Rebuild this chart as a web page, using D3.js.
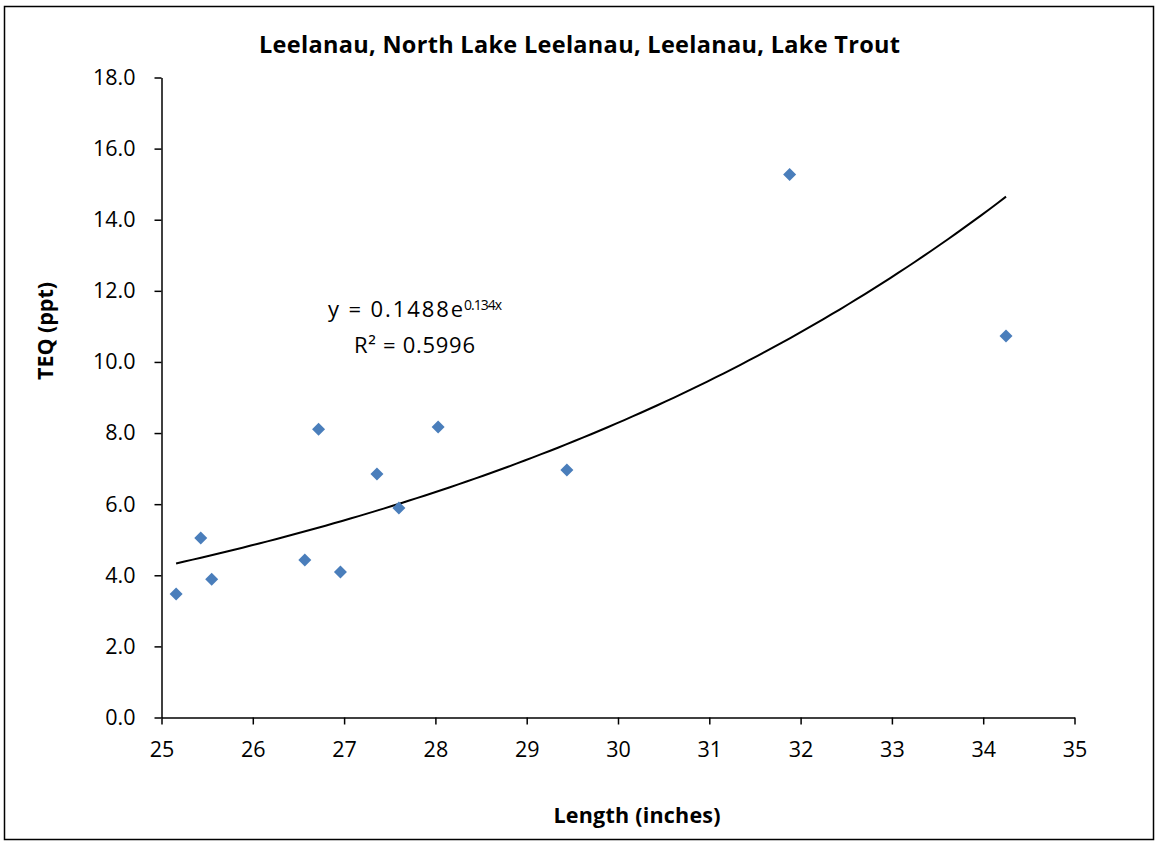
<!DOCTYPE html>
<html>
<head>
<meta charset="utf-8">
<script src="https://cdn.jsdelivr.net/npm/d3@7"></script>
<style>
  html, body { margin: 0; padding: 0; background: #fff; }
  text { font-family: "Open Sans", sans-serif; fill: #000; }
</style>
</head>
<body>
<svg id="chart" width="1156" height="842"></svg>
<script>
const lengths = [25.16, 25.43, 25.55, 26.57, 26.72, 26.96, 27.36, 27.60, 28.03, 29.44, 31.88, 34.25];
const teq     = [3.47, 5.05, 3.89, 4.43, 8.11, 4.09, 6.85, 5.89, 8.17, 6.96, 15.27, 10.73];
const xTicks = [25, 26, 27, 28, 29, 30, 31, 32, 33, 34, 35];
const yTicks = [0, 2, 4, 6, 8, 10, 12, 14, 16, 18];
const trendA = 0.1488, trendB = 0.134;
const titleText = "Leelanau, North Lake Leelanau, Leelanau, Lake Trout";
const xLabel = "Length (inches)";
const yLabel = "TEQ (ppt)";

const svg = d3.select("#chart");
svg.append("rect").attr("x", 4.5).attr("y", 6.5).attr("width", 1149).attr("height", 833)
  .attr("fill", "#fff").attr("stroke", "#000").attr("stroke-width", 1.5);

const x = d3.scaleLinear().domain([25, 35]).range([161.5, 1074.5]);
const y = d3.scaleLinear().domain([0, 18]).range([717.5, 77.5]);

const xAxis = svg.append("g").attr("transform", "translate(0,717.5)")
  .call(d3.axisBottom(x).tickValues(xTicks).tickSize(7).tickSizeOuter(0).tickPadding(17).tickFormat(d3.format("d")));
const yAxis = svg.append("g").attr("transform", "translate(161.5,0)")
  .call(d3.axisLeft(y).tickValues(yTicks).tickSize(7).tickSizeOuter(0).tickPadding(19).tickFormat(d3.format(".1f")));
[xAxis, yAxis].forEach(g => {
  g.select(".domain").attr("stroke", "#000").attr("stroke-width", 1.5);
  g.selectAll(".tick line").attr("stroke", "#000").attr("stroke-width", 1.5);
  g.selectAll(".tick text").style("font-family", "'Open Sans', sans-serif").style("font-size", "21.5px").attr("fill", "#000");
});

// trendline
const xs = d3.range(0, 101).map(i => lengths[0] + (d3.max(lengths) - lengths[0]) * i / 100);
svg.append("path")
  .attr("d", d3.line().x(d => x(d)).y(d => y(trendA * Math.exp(trendB * d)))(xs))
  .attr("fill", "none").attr("stroke", "#000").attr("stroke-width", 2);

// points
const pts = lengths.map((l, i) => ({ l, v: teq[i] }));
svg.append("g").selectAll("path").data(pts).join("path")
  .attr("transform", d => `translate(${x(d.l)},${y(d.v)})`)
  .attr("d", "M0,-6.5L6.5,0L0,6.5L-6.5,0Z")
  .attr("fill", "#4a7ebb");

// title & labels
svg.append("text").attr("x", 579.5).attr("y", 53).attr("text-anchor", "middle")
  .style("font-size", "23.5px").style("font-weight", "bold")
  .attr("textLength", 641).attr("lengthAdjust", "spacing").text(titleText);
svg.append("text").attr("x", 637).attr("y", 823).attr("text-anchor", "middle")
  .style("font-size", "21.5px").style("font-weight", "bold")
  .attr("textLength", 167).attr("lengthAdjust", "spacing").text(xLabel);
svg.append("text").attr("transform", "translate(53,331) rotate(-90)").attr("text-anchor", "middle")
  .style("font-size", "21.5px").style("font-weight", "bold")
  .attr("textLength", 98).attr("lengthAdjust", "spacing").text(yLabel);

// equation
svg.append("text").attr("x", 328).attr("y", 317).style("font-size", "22px")
  .attr("textLength", 135).attr("lengthAdjust", "spacing").text("y = 0.1488e");
svg.append("text").attr("x", 464).attr("y", 310).style("font-size", "14px")
  .attr("textLength", 38).attr("lengthAdjust", "spacing").text("0.134x");
svg.append("text").attr("x", 354).attr("y", 353).style("font-size", "22px")
  .attr("textLength", 121).attr("lengthAdjust", "spacing").text("R² = 0.5996");
</script>
</body>
</html>
